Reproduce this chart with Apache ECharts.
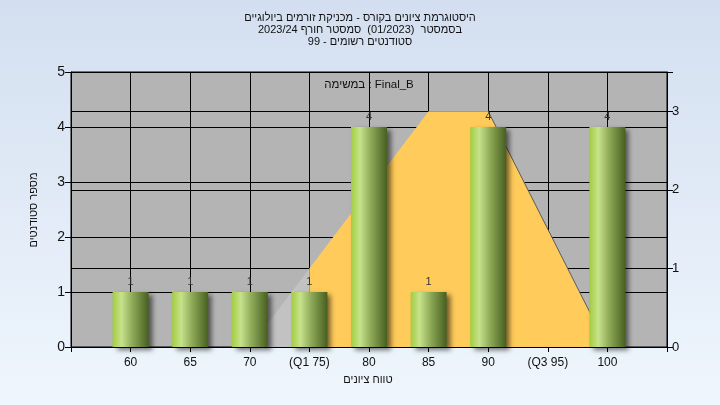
<!DOCTYPE html>
<html dir="ltr">
<head>
<meta charset="utf-8">
<script src="https://cdn.jsdelivr.net/npm/echarts@6/dist/echarts.min.js"></script>
<style>html,body{margin:0;padding:0;}#c{width:720px;height:405px;}</style>
</head>
<body>
<div id="c"></div>
<script>
const titleLines = [
  'היסטוגרמת ציונים בקורס - מכניקת זורמים ביולוגיים',
  'בסמסטר  (01/2023)  סמסטר חורף 2023/24',
  'סטודנטים רשומים - 99'
];
const taskLabel = 'במשימה : Final_B';
const xAxisName = 'טווח ציונים';
const yAxisName = 'מספר סטודנטים';
const categories = ['', '60', '65', '70', '(Q1 75)', '80', '85', '90', '(Q3 95)', '100', ''];
const counts = [null, 1, 1, 1, 1, 4, 1, 4, 0, 4, null];
// distribution curve (right axis), split into the part below Q1 and the shaded part
const curveBeforeQ1 = [null, null, null, 0, 1, null, null, null, null, null, null];
const curveShaded   = [null, null, null, null, 1, 2, 3, 3, 1.5, 0, null];
const curveEdge     = [null, null, null, null, null, null, null, 3, 1.5, 0, null];
const leftTicks = [0, 5, 1];
const rightTicks = [0, 3.5, 1];

const fontName = '"Liberation Sans", Arial, sans-serif';
const measureCtx = document.createElement('canvas').getContext('2d');

// Word-level bidi ordering (left-to-right base direction): runs of Hebrew words, with the numbers and
// punctuation that sit among them, are displayed right-to-left.
function visualWords(text) {
  const toks = text.split(' ');
  const type = toks.map(t => /[A-Za-z]/.test(t) ? 'L' : /[\u0590-\u05FF]/.test(t) ? 'R' : /\d/.test(t) ? 'EN' : 'N');
  let lastStrong = 'L';
  for (let i = 0; i < toks.length; i++) {
    if (type[i] === 'L' || type[i] === 'R') lastStrong = type[i];
    else if (type[i] === 'EN') type[i] = lastStrong;
  }
  for (let i = 0; i < toks.length; i++) {
    if (type[i] !== 'N') continue;
    let p = 'L', n = 'L';
    for (let j = i - 1; j >= 0; j--) if (type[j] !== 'N') { p = type[j]; break; }
    for (let j = i + 1; j < toks.length; j++) if (type[j] !== 'N') { n = type[j]; break; }
    type[i] = (p === 'R' && n === 'R') ? 'R' : 'L';
  }
  const out = [];
  let i = 0;
  while (i < toks.length) {
    if (type[i] === 'R') {
      let j = i;
      while (j < toks.length && type[j] === 'R') j++;
      out.push(...toks.slice(i, j).reverse());
      i = j;
    } else { out.push(toks[i]); i++; }
  }
  return out;
}

// place the words of a text as a row centred on (cx, cy)
function wordRow(text, cx, cy, size, color) {
  const font = size + 'px ' + fontName;
  measureCtx.font = font;
  const parts = visualWords(text);
  const sp = measureCtx.measureText(' ').width;
  const widths = parts.map(p => measureCtx.measureText(p).width);
  const total = widths.reduce((a, b) => a + b, 0) + sp * (parts.length - 1);
  let x = cx - total / 2;
  const els = [];
  parts.forEach((p, i) => {
    if (p) els.push({type: 'text', x: x, y: cy, z: 100,
      style: {text: p, font: font, fill: color, textAlign: 'left', textVerticalAlign: 'middle'}});
    x += widths[i] + sp;
  });
  return els;
}

const graphics = []
  .concat(wordRow(titleLines[0], 360, 18, 11, '#111'))
  .concat(wordRow(titleLines[1], 360, 30, 11, '#111'))
  .concat(wordRow(titleLines[2], 360, 42, 11, '#111'))
  .concat(wordRow(taskLabel, 369, 85, 11.5, '#111'))
  .concat(wordRow(xAxisName, 368, 380, 11, '#111'))
  .concat([{type: 'group', x: 34, y: 210, rotation: Math.PI / 2, children: wordRow(yAxisName, 0, 0, 11, '#111')}]);

const chart = echarts.init(document.getElementById('c'));
chart.setOption({
  backgroundColor: new echarts.graphic.LinearGradient(0, 0, 0, 1, [
    {offset: 0, color: '#d3dff0'}, {offset: 1, color: '#eff6fd'}
  ]),
  animation: false,
  graphic: graphics,
  grid: {left: 71, right: 53, top: 72, bottom: 58, show: true, backgroundColor: '#b4b4b4', borderColor: '#000', borderWidth: 1},
  xAxis: {
    type: 'category', data: categories, boundaryGap: false,
    axisLine: {lineStyle: {color: '#000'}},
    axisTick: {show: true, length: 5, interval: 0, lineStyle: {color: '#000'}},
    axisLabel: {interval: 0, fontSize: 12, color: '#111', margin: 10, fontFamily: fontName},
    splitLine: {show: true, interval: 0, lineStyle: {color: '#000', width: 1}}
  },
  yAxis: [{
    type: 'value', min: leftTicks[0], max: leftTicks[1], interval: leftTicks[2],
    axisLine: {show: true, lineStyle: {color: '#000'}},
    axisTick: {show: true, length: 6, lineStyle: {color: '#000'}},
    axisLabel: {fontSize: 14, color: '#111', margin: 6, fontFamily: fontName},
    splitLine: {show: true, lineStyle: {color: '#000', width: 1}}
  }, {
    type: 'value', min: rightTicks[0], max: rightTicks[1], interval: rightTicks[2], position: 'right',
    axisLine: {show: true, lineStyle: {color: '#000'}},
    axisTick: {show: true, length: 6, lineStyle: {color: '#000'}},
    axisLabel: {fontSize: 13, color: '#111', margin: 5, fontFamily: fontName,
      formatter: v => Number.isInteger(v) ? String(v) : ''},
    splitLine: {show: true, lineStyle: {color: '#000', width: 1}}
  }],
  series: [{
    type: 'line', yAxisIndex: 1, data: curveBeforeQ1, symbol: 'none', z: 1,
    lineStyle: {width: 0}, areaStyle: {color: '#c2c2c2', opacity: 1}
  }, {
    type: 'line', yAxisIndex: 1, data: curveShaded, symbol: 'none', z: 1,
    lineStyle: {width: 0}, areaStyle: {color: '#ffcb5a', opacity: 1}
  }, {
    type: 'line', yAxisIndex: 1, data: curveEdge, symbol: 'none', z: 2,
    lineStyle: {width: 1, color: '#5a5a5a'}
  }, {
    type: 'bar', yAxisIndex: 0, data: counts, barWidth: 36, z: 5,
    itemStyle: {
      color: new echarts.graphic.LinearGradient(0, 0, 1, 0, [
        {offset: 0, color: '#a2cd40'}, {offset: 0.25, color: '#c7e28c'},
        {offset: 0.55, color: '#8eaa58'}, {offset: 1, color: '#475f20'}
      ]),
      shadowColor: 'rgba(0,0,0,0.55)', shadowBlur: 5, shadowOffsetX: 4, shadowOffsetY: 3
    },
    label: {show: true, position: 'top', distance: 5, fontSize: 11, color: '#333', fontFamily: fontName,
      formatter: p => p.value ? String(p.value) : ''}
  }]
});
</script>
</body>
</html>
